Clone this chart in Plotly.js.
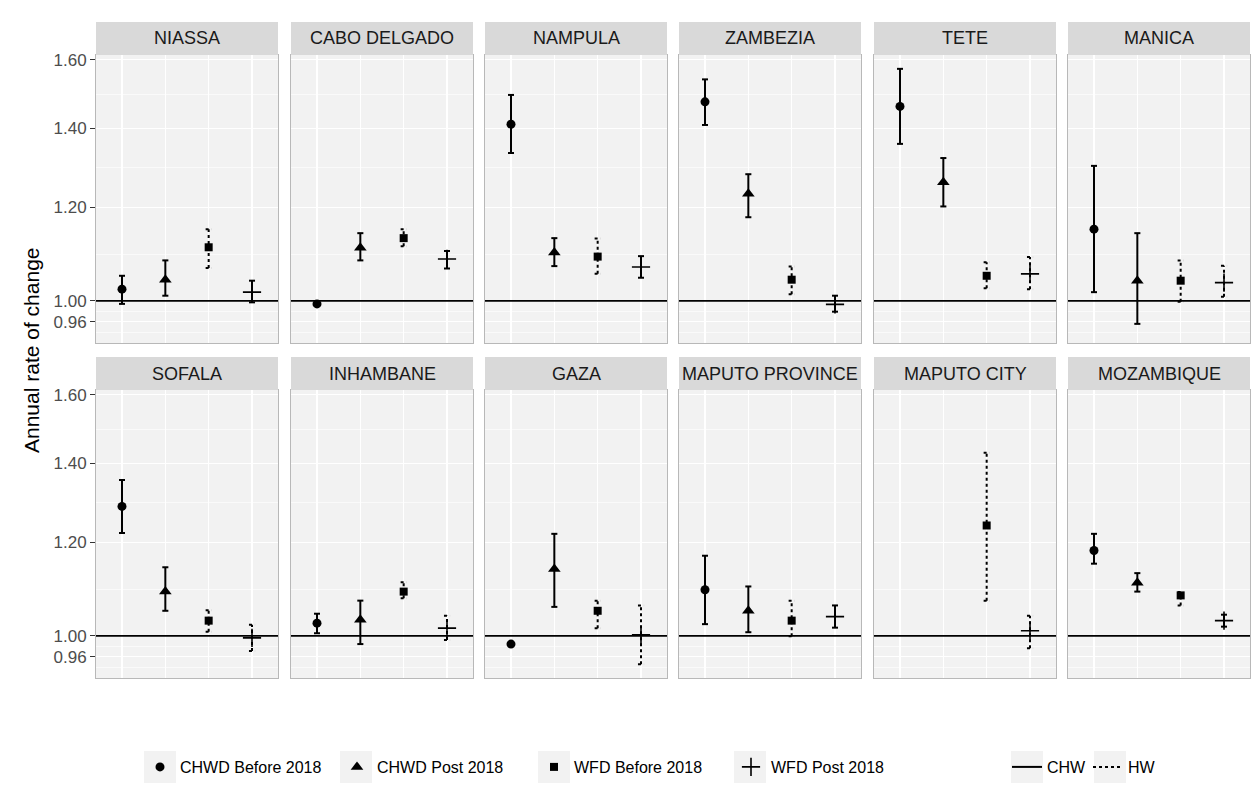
<!DOCTYPE html>
<html>
<head>
<meta charset="utf-8">
<script src="https://cdn.plot.ly/plotly-3.0.1.min.js"></script>
<style>
html,body{margin:0;padding:0;background:#fff;}
#chart{width:1260px;height:804px;}
</style>
</head>
<body>
<div id="chart"></div>
<script>
// ---------------- DATA ----------------
const provinces = ['NIASSA','CABO DELGADO','NAMPULA','ZAMBEZIA','TETE','MANICA',
                   'SOFALA','INHAMBANE','GAZA','MAPUTO PROVINCE','MAPUTO CITY','MOZAMBIQUE'];

const chwdBefore   = [1.023,0.994,1.411,1.474,1.461,1.150,1.287,1.025,0.984,1.094,null,1.181];
const chwdBeforeLo = [0.994,0.991,1.334,1.409,1.358,1.017,1.222,1.005,0.982,1.023,null,1.151];
const chwdBeforeHi = [1.050,0.997,1.494,1.540,1.572,1.301,1.355,1.044,0.986,1.169,null,1.220];

const chwdPost     = [1.042,1.109,1.099,1.232,1.260,1.040,1.090,1.032,1.139,1.050,null,1.109];
const chwdPostLo   = [1.010,1.082,1.070,1.177,1.202,0.956,1.050,0.984,1.058,1.007,null,1.090];
const chwdPostHi   = [1.082,1.141,1.130,1.280,1.321,1.141,1.143,1.071,1.220,1.101,null,1.130];

const wfdBefore    = [1.110,1.130,1.090,1.042,1.050,1.040,1.030,1.090,1.050,1.030,1.240,1.082];
const wfdBeforeLo  = [1.066,1.112,1.054,1.013,1.025,0.998,1.008,1.076,1.015,0.999,1.071,1.061];
const wfdBeforeHi  = [1.150,1.150,1.129,1.069,1.078,1.082,1.051,1.110,1.071,1.071,1.429,1.089];

const wfdPost      = [1.017,1.085,1.068,0.993,1.054,1.036,0.996,1.015,1.002,1.038,1.010,1.030];
const wfdPostLo    = [0.997,1.065,1.046,0.979,1.023,1.008,0.971,0.992,0.946,1.016,0.976,1.018];
const wfdPostHi    = [1.040,1.102,1.091,1.010,1.089,1.071,1.022,1.040,1.061,1.061,1.040,1.042];

// line type of each error bar (CHW = solid, HW = dotted)
const chwdBeforeType = ['CHW','CHW','CHW','CHW','CHW','CHW','CHW','CHW','CHW','CHW','CHW','CHW'];
const chwdPostType   = ['CHW','CHW','CHW','CHW','CHW','CHW','CHW','CHW','CHW','CHW','CHW','CHW'];
const wfdBeforeType  = ['HW','HW','HW','HW','HW','HW','HW','HW','HW','HW','HW','HW'];
const wfdPostType    = ['CHW','CHW','CHW','CHW','HW','HW','HW','HW','HW','CHW','HW','CHW'];

const seriesNames = ['CHWD Before 2018','CHWD Post 2018','WFD Before 2018','WFD Post 2018'];
const xSlots = [1,2,3,4];
const yBreaks = [0.96,1.00,1.20,1.40,1.60];
const yLabels = ['0.96','1.00','1.20','1.40','1.60'];
const lineTypes = ['CHW','HW'];

// ---------------- STYLE / LAYOUT ----------------
const W = 1260, H = 804;
const FONT = 'Liberation Sans, Arial, Helvetica, sans-serif';
const panelLeft = [96,291,485,679,874,1068];
const panelW = 182;
const rowTop = [55,390];
const panelH = 288;
const stripH = 33;
const capHalf = 0.07;
const legendY = 767;

const series = [
  {v:chwdBefore, lo:chwdBeforeLo, hi:chwdBeforeHi, t:chwdBeforeType, sym:'circle', size:9},
  {v:chwdPost,   lo:chwdPostLo,   hi:chwdPostHi,   t:chwdPostType,   sym:'triangle-up', size:11},
  {v:wfdBefore,  lo:wfdBeforeLo,  hi:wfdBeforeHi,  t:wfdBeforeType,  sym:'square', size:8},
  {v:wfdPost,    lo:wfdPostLo,    hi:wfdPostHi,    t:wfdPostType,    sym:'cross-thin', size:13}
];

// minor gridlines halfway (in log space) between breaks
const lb = yBreaks.map(Math.log10);
const minorVals = [];
for (let i=0;i<lb.length-1;i++) minorVals.push(Math.pow(10,(lb[i]+lb[i+1])/2));
minorVals.push(Math.pow(10, lb[0]-(lb[1]-lb[0])/2));

const yRange = [Math.log10(0.921), Math.log10(1.615)];

const traces = [];
const layout = {
  width:W, height:H,
  margin:{l:0,r:0,t:0,b:0},
  paper_bgcolor:'#FFFFFF',
  plot_bgcolor:'#F2F2F2',
  font:{family:FONT, color:'#000000'},
  shapes:[], annotations:[],
  legend:{orientation:'h', x:140/W, xanchor:'left', y:1-legendY/H, yanchor:'middle',
          font:{size:16,color:'#000000',family:FONT}, bgcolor:'rgba(0,0,0,0)',
          entrywidth:152, traceorder:'normal', itemclick:false},
  legend2:{orientation:'h', x:1007/W, xanchor:'left', y:1-legendY/H, yanchor:'middle',
          font:{size:16,color:'#000000',family:FONT}, bgcolor:'rgba(0,0,0,0)',
          entrywidth:36, traceorder:'normal', itemclick:false},
  showlegend:true
};

// legend key backgrounds (grey95 boxes)
[160,356,554,750,1027,1110].forEach(function(cx){
  layout.shapes.push({type:'rect', xref:'paper', yref:'paper', layer:'below',
    x0:(cx-16)/W, x1:(cx+16)/W, y0:1-(legendY+16)/H, y1:1-(legendY-16)/H,
    fillcolor:'#F2F2F2', line:{width:0}});
});

for (let p=0;p<12;p++){
  const row = Math.floor(p/6), col = p%6;
  const k = p+1;
  const xa = k===1?'x':'x'+k, ya = k===1?'y':'y'+k;
  const xKey = k===1?'xaxis':'xaxis'+k, yKey = k===1?'yaxis':'yaxis'+k;
  const x0 = panelLeft[col], y0 = rowTop[row];
  layout[xKey] = {
    domain:[x0/W,(x0+panelW)/W], anchor:ya, range:[0.4,4.6],
    tickmode:'array', tickvals:xSlots, showticklabels:false, ticks:'',
    showgrid:true, gridcolor:'#FFFFFF', gridwidth:1.2, zeroline:false,
    showline:true, mirror:true, linecolor:'#B8B8B8', linewidth:1, fixedrange:true
  };
  layout[yKey] = {
    type:'log', domain:[1-(y0+panelH)/H, 1-y0/H], anchor:xa, range:yRange,
    tickmode:'array', tickvals:yBreaks, ticktext:yLabels,
    showticklabels:col===0, ticks:col===0?'outside':'', ticklen:5, tickwidth:1, tickcolor:'#333333',
    tickfont:{size:17,color:'#4D4D4D',family:FONT},
    showgrid:true, gridcolor:'#FFFFFF', gridwidth:1.2, zeroline:false,
    minor:{tickvals:minorVals, showgrid:true, gridcolor:'#FFFFFF', gridwidth:0.6, ticks:''},
    showline:true, mirror:true, linecolor:'#B8B8B8', linewidth:1, fixedrange:true
  };
  // strip
  layout.shapes.push({type:'rect', xref:'paper', yref:'paper', layer:'above',
    x0:x0/W, x1:(x0+panelW)/W, y0:1-y0/H, y1:1-(y0-stripH)/H,
    fillcolor:'#D9D9D9', line:{width:0}});
  layout.annotations.push({xref:'paper', yref:'paper', x:(x0+panelW/2)/W, y:1-(y0-stripH/2)/H,
    text:provinces[p], showarrow:false, xanchor:'center', yanchor:'middle',
    font:{size:18,color:'#1A1A1A',family:FONT}});

  // reference line at 1
  traces.push({type:'scatter', mode:'lines', x:[0.4,4.6], y:[1,1], xaxis:xa, yaxis:ya,
    line:{color:'#000000', width:1.8}, showlegend:false, hoverinfo:'skip'});

  // error bars grouped by line type
  lineTypes.forEach(function(lt){
    const ex=[], ey=[];
    series.forEach(function(s,si){
      if (s.v[p]===null || s.t[p]!==lt) return;
      const xc = xSlots[si];
      ex.push(xc,xc,null, xc-capHalf,xc+capHalf,null, xc-capHalf,xc+capHalf,null);
      ey.push(s.lo[p],s.hi[p],null, s.hi[p],s.hi[p],null, s.lo[p],s.lo[p],null);
    });
    traces.push({type:'scatter', mode:'lines', x:ex, y:ey, xaxis:xa, yaxis:ya,
      name:lt, legend:'legend2', legendgroup:lt,
      showlegend:(p===0),
      line:{color:'#000000', width:2, dash: lt==='CHW'?'solid':'dot'},
      hoverinfo:'skip', connectgaps:false});
  });

  // points
  series.forEach(function(s,si){
    traces.push({type:'scatter', mode:'markers', x:[xSlots[si]], y:[s.v[p]], xaxis:xa, yaxis:ya,
      name:seriesNames[si], legendgroup:seriesNames[si], showlegend:(p===0), legend:'legend',
      marker:{symbol:s.sym, size:s.size, color:'#000000',
              line:{color:'#000000', width: s.sym==='cross-thin'?1.6:0}},
      hoverinfo:'skip'});
  });
}

// y axis title
layout.annotations.push({xref:'paper', yref:'paper', x:32/W, y:1-350/H, text:'Annual rate of change',
  textangle:-90, showarrow:false, xanchor:'center', yanchor:'middle',
  font:{size:21,color:'#000000',family:FONT}});

Plotly.newPlot('chart', traces, layout, {displayModeBar:false, staticPlot:true});
</script>
</body>
</html>
